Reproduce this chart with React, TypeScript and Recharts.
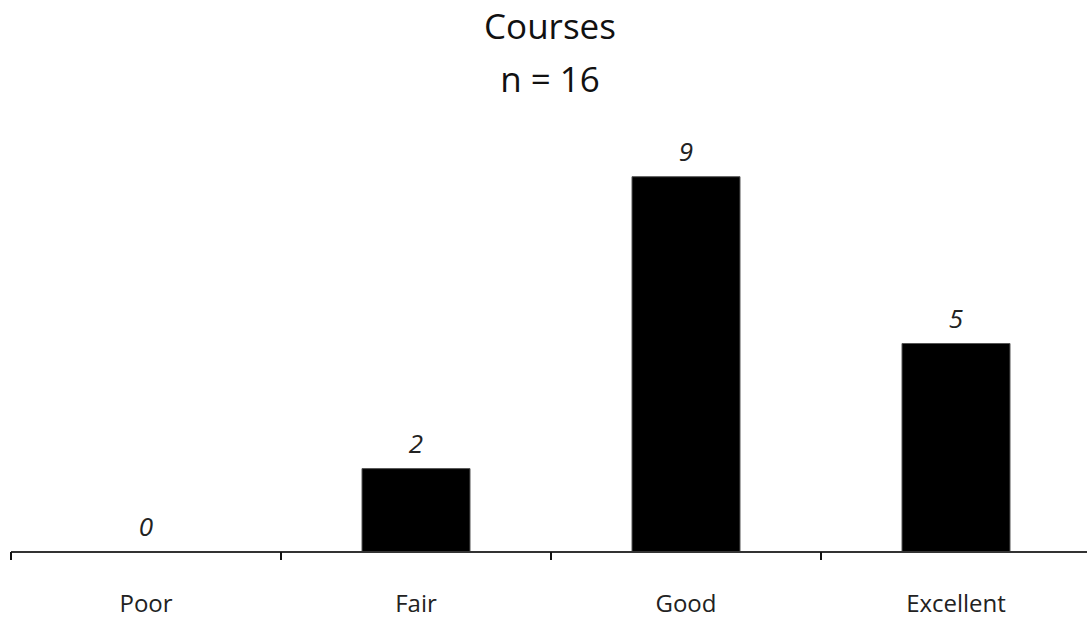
import React from "react";
import { ComposedChart, Bar, Line, XAxis, YAxis, LabelList } from "recharts";

const categories = ["Poor", "Fair", "Good", "Excellent"];
const counts = [0, 2, 9, 5];
const titleLines = ["Courses", "n = 16"];

const data = categories.map((c, i) => ({ name: c, value: counts[i] }));

const FONT = "'Open Sans', 'DejaVu Sans', sans-serif";
const BAND = 270;

const Tick = (props: any) => {
  const { x, y, payload, index } = props;
  return (
    <g>
      <line x1={x - BAND / 2} y1={y} x2={x - BAND / 2} y2={y + 8} stroke="#111" strokeWidth={2} />
      {index === categories.length - 1 && (
        <line x1={x + BAND / 2} y1={y} x2={x + BAND / 2} y2={y + 8} stroke="#111" strokeWidth={2} />
      )}
      <text x={x} y={y + 60} textAnchor="middle" fontFamily={FONT} fontSize={24} fill="#222">
        {payload.value}
      </text>
    </g>
  );
};

export default function App() {
  return (
    <div style={{ position: "absolute", left: 0, top: 0, width: 1087, height: 620, overflow: "hidden", background: "#fff" }}>
      <div style={{ position: "absolute", left: 0, top: 0, width: 1100, textAlign: "center", fontFamily: FONT, fontSize: 35, color: "#111", lineHeight: "53px" }}>
        <div style={{ position: "absolute", left: 0, width: 1100, top: -1 }}>{titleLines[0]}</div>
        <div style={{ position: "absolute", left: 0, width: 1100, top: 52 }}>{titleLines[1]}</div>
      </div>
      <div style={{ position: "absolute", left: 0, top: 0 }}>
        <ComposedChart width={1091} height={620} data={data} margin={{ top: 135, right: 0, left: 11, bottom: 0 }} barCategoryGap="30%">
          <YAxis hide domain={[0, 10]} />
          <XAxis
            dataKey="name"
            height={68}
            tickSize={0}
            tickMargin={0}
            tickLine={false}
            axisLine={{ stroke: "#333", strokeWidth: 2 }}
            tick={<Tick />}
            interval={0}
          />
          <Bar dataKey="value" fill="#000" stroke="#555" strokeWidth={1} isAnimationActive={false} />
          <Line dataKey="value" stroke="none" dot={false} activeDot={false} isAnimationActive={false}>
            <LabelList dataKey="value" position="top" offset={16} fontFamily={FONT} fontSize={26} fontStyle="italic" fill="#222" />
          </Line>
        </ComposedChart>
      </div>
    </div>
  );
}
